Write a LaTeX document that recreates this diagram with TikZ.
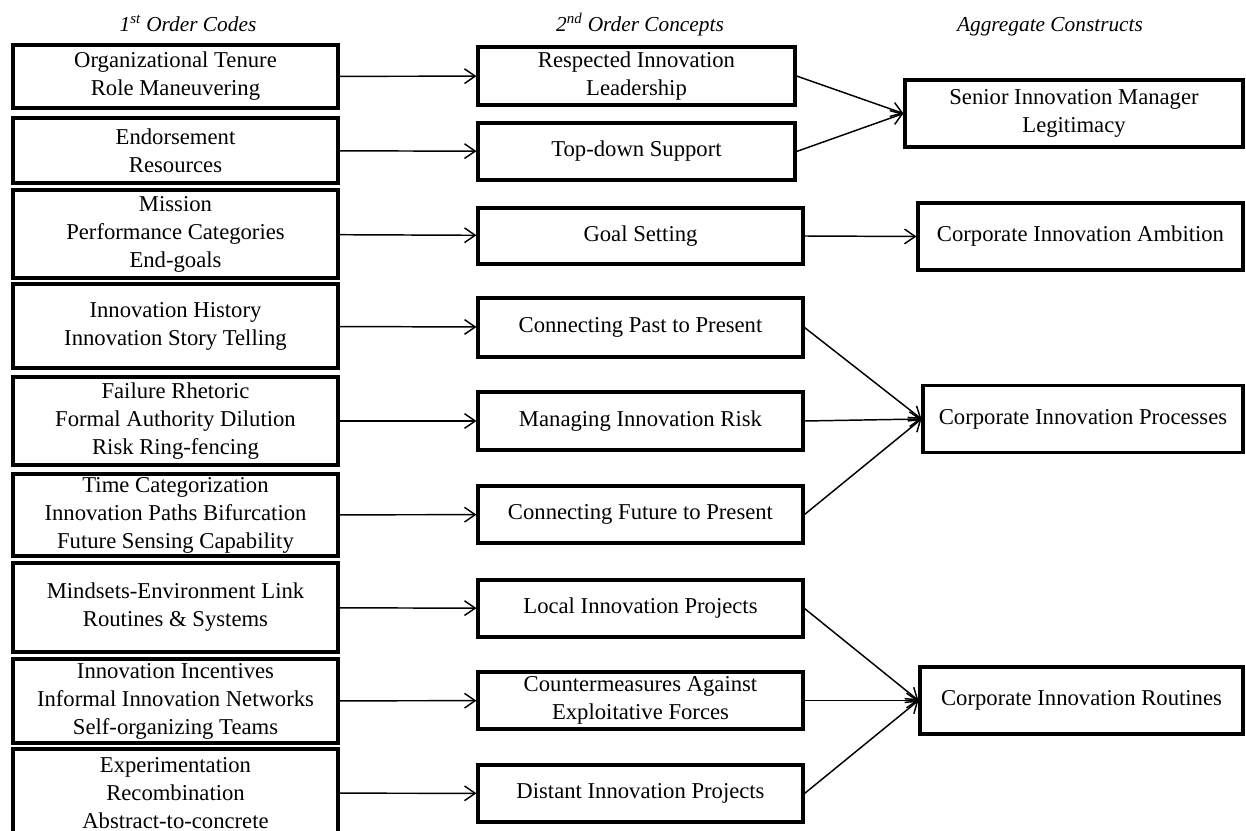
\documentclass[tikz,border=0pt]{standalone}
\usepackage{fontspec}
\setmainfont{Liberation Serif}
\usetikzlibrary{arrows.meta, positioning, calc}

\tikzset{
  codebox/.style={draw, line width=2.3pt, align=center, inner sep=0pt,
    font=\fontsize{17}{21}\selectfont},
  colhead/.style={anchor=base, font=\fontsize{16}{19}\selectfont\itshape},
  link/.style={line width=1.1pt, -{Straight Barb[length=8pt,width=11pt]}}
}

\begin{document}
\begin{tikzpicture}[x=0.75pt,y=-0.75pt]
  \useasboundingbox (0,0) rectangle (1246,831);

  % column heads
  \node[colhead] (H1) at (188,32) {1\textsuperscript{st} Order Codes};
  \node[colhead] (H2) at (640,32) {2\textsuperscript{nd} Order Concepts};
  \node[colhead] (H3) at (1050,32) {Aggregate Constructs};

  % 1st order codes
  \foreach \i\y\h\t in {1/76.5/63/{Organizational Tenure\\Role Maneuvering},
      2/150.5/65/{Endorsement\\Resources},
      3/234/88/{Mission\\Performance Categories\\End-goals},
      4/326/84/{Innovation History\\Innovation Story Telling},
      5/421/88/{Failure Rhetoric\\Formal Authority Dilution\\Risk Ring-fencing},
      6/515/82/{Time Categorization\\Innovation Paths Bifurcation\\Future Sensing Capability},
      7/607.5/89/{Mindsets-Environment Link\\Routines \& Systems},
      8/701/84/{Innovation Incentives\\Informal Innovation Networks\\Self-organizing Teams},
      9/793/88/{Experimentation\\Recombination\\Abstract-to-concrete}} {
    \node[codebox, minimum width=325*0.75pt, minimum height=\h*0.75pt] (C\i) at (175.5,\y) {\t};
  }

  % 2nd order concepts
  \foreach \i\x\y\w\h\t in {1/636.5/76/317/58/{Respected Innovation\\Leadership},
      2/636.5/151.5/317/57/{Top-down Support},
      3/640.5/236/325/56/{Goal Setting},
      4/640.5/327.5/325/59/{Connecting Past to Present},
      5/640.5/421/325/58/{Managing Innovation Risk},
      6/640.5/514.5/325/57/{Connecting Future to Present},
      7/640.5/608.5/325/57/{Local Innovation Projects},
      8/640.5/700.5/325/57/{Countermeasures Against\\Exploitative Forces},
      9/640.5/793.5/325/57/{Distant Innovation Projects}} {
    \node[codebox, minimum width=\w*0.75pt, minimum height=\h*0.75pt] (M\i) at (\x,\y) {\t};
  }

  % aggregate constructs
  \foreach \i\x\y\w\t in {1/1074/113.5/338/{Senior Innovation Manager\\Legitimacy},
      2/1080.5/236.5/325/{Corporate Innovation Ambition},
      3/1083/419/320/{Corporate Innovation Processes},
      4/1081.5/700.5/323/{Corporate Innovation Routines}} {
    \node[codebox, minimum width=\w*0.75pt, minimum height=67*0.75pt] (A\i) at (\x,\y) {\t};
  }

  \foreach \i in {1,...,9} {
    \draw[link] (C\i) -- (M\i);
  }
  \foreach \a\b in {1/1,2/1,3/2,4/3,5/3,6/3,7/4,8/4,9/4} {
    \draw[link] (M\a.east) -- (A\b.west);
  }
\end{tikzpicture}
\end{document}
